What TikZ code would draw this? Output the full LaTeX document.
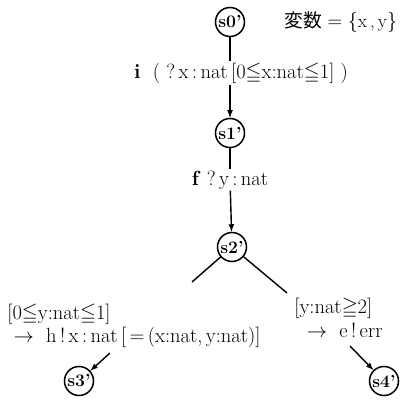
\documentclass[tikz,border=0pt]{standalone}
\usepackage{amssymb}
\usepackage{fontspec}
\newfontfamily\jpfont{Noto Sans CJK JP}
\usetikzlibrary{positioning}

\tikzset{
  state/.style={circle,draw,line width=1.3pt,minimum size=29*0.03cm,inner sep=0pt,font=\fontsize{15}{18}\selectfont\bfseries},
  lbl/.style={font=\fontsize{17.5}{20}\selectfont,inner sep=1pt},
  edge/.style={line width=1.2pt},
  arr/.style={line width=1.2pt,-latex}
}

\begin{document}
\begin{tikzpicture}[x=0.03cm,y=-0.03cm]
\useasboundingbox (0,0) rectangle (401,400);

% states
\node[state] (s0) at (230,22) {s0'};
\node[state] (s1) at (230,133) {s1'};
\node[state] (s2) at (232,247) {s2'};
\node[state] (s3) at (79,381) {s3'};
\node[state] (s4) at (384,381) {s4'};

\node[lbl,anchor=west,font=\fontsize{16}{19}\selectfont] (vars) at (283,22) {{\jpfont 変数} $=\{$x\,,\,y$\}$};

% transition labels
\node[lbl] (t01) at (241,73) {\textbf{i}\ \ (\ ?\,x\,:\,nat\,[0$\leqq$x:nat$\leqq$1]\ )};
\node[lbl] (t12) at (230,180) {\textbf{f}\ ?\,y\,:\,nat};
\node[lbl,align=left,anchor=west] (t23) at (6,326) {[0$\leqq$y:nat$\leqq$1]\\
  \ $\rightarrow$\ \ h\,!\,x\,:\,nat\,[\,=\,(x:nat,\,y:nat)]};
\node[lbl,align=left,anchor=west] (t24) at (293,318) {[y:nat$\geqq$2]\\
  \ \ $\rightarrow$\ \ e\,!\,err};

% free ends of the branch lines
\coordinate (b3) at (192,282);
\coordinate (b4) at (287,293);
\coordinate (a3) at (110,353);
\coordinate (a4) at (350,346);

\draw[edge] (s0) -- (s0 |- t01.north);
\draw[arr] (s1 |- t01.south) -- (s1);
\draw[edge] (s1) -- (t12);
\draw[arr] (t12) -- (s2);
\draw[edge] (s2) -- (b3);
\draw[edge] (s2) -- (b4);
\draw[arr] (a3) -- (s3);
\draw[arr] (a4) -- (s4);
\end{tikzpicture}
\end{document}
